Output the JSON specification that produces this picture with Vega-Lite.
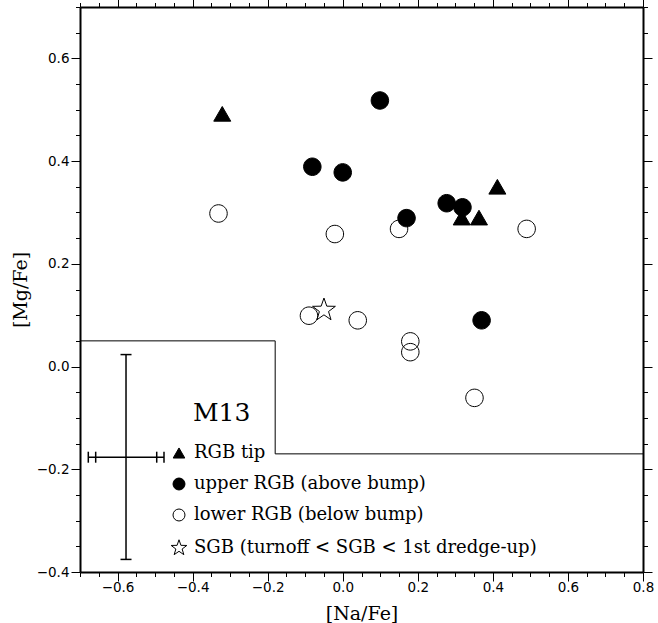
{
  "$schema": "https://vega.github.io/schema/vega-lite/v6.json",
  "width": 563,
  "height": 565,
  "autosize": {"type": "none"},
  "padding": {"left": 80, "top": 7, "right": 15, "bottom": 51},
  "datasets": {
    "stars": [
      {"na": -0.331, "mg": 0.298, "group": "lower RGB (below bump)"},
      {"na": -0.021, "mg": 0.258, "group": "lower RGB (below bump)"},
      {"na": 0.150, "mg": 0.268, "group": "lower RGB (below bump)"},
      {"na": 0.490, "mg": 0.268, "group": "lower RGB (below bump)"},
      {"na": -0.090, "mg": 0.099, "group": "lower RGB (below bump)"},
      {"na": 0.040, "mg": 0.090, "group": "lower RGB (below bump)"},
      {"na": 0.180, "mg": 0.049, "group": "lower RGB (below bump)"},
      {"na": 0.180, "mg": 0.028, "group": "lower RGB (below bump)"},
      {"na": 0.351, "mg": -0.061, "group": "lower RGB (below bump)"},
      {"na": -0.050, "mg": 0.110, "group": "SGB (turnoff < SGB < 1st dredge-up)"},
      {"na": 0.099, "mg": 0.518, "group": "upper RGB (above bump)"},
      {"na": -0.081, "mg": 0.389, "group": "upper RGB (above bump)"},
      {"na": 0.000, "mg": 0.378, "group": "upper RGB (above bump)"},
      {"na": 0.170, "mg": 0.289, "group": "upper RGB (above bump)"},
      {"na": 0.277, "mg": 0.318, "group": "upper RGB (above bump)"},
      {"na": 0.319, "mg": 0.310, "group": "upper RGB (above bump)"},
      {"na": 0.370, "mg": 0.090, "group": "upper RGB (above bump)"},
      {"na": -0.321, "mg": 0.492, "group": "RGB tip"},
      {"na": 0.412, "mg": 0.350, "group": "RGB tip"},
      {"na": 0.317, "mg": 0.290, "group": "RGB tip"},
      {"na": 0.363, "mg": 0.290, "group": "RGB tip"}
    ],
    "labels": [
      {"na": -0.399, "mg": -0.0914, "text": "M13"}
    ],
    "step": [
      {"x": -0.7, "y": 0.05},
      {"x": -0.18, "y": -0.17},
      {"x": 0.8, "y": -0.17}
    ],
    "err": [
      {"xc": -0.5774, "yc": -0.1765, "xlo": -0.6779, "xhi": -0.4762, "ylo": -0.3755, "yhi": 0.0233}
    ],
    "vcaps": [
      {"x": -0.5774, "y": 0.0233},
      {"x": -0.5774, "y": -0.3755}
    ],
    "hcaps": [
      {"x": -0.6779, "y": -0.1765},
      {"x": -0.6582, "y": -0.1765},
      {"x": -0.4956, "y": -0.1765},
      {"x": -0.4762, "y": -0.1765}
    ]
  },
  "layer": [
    {
      "data": {"name": "step"},
      "mark": {"type": "line", "interpolate": "step-after", "color": "black", "strokeWidth": 1},
      "encoding": {
        "x": {
          "field": "x", "type": "quantitative",
          "scale": {"domain": [-0.7, 0.8], "nice": false, "zero": false},
          "axis": {
            "orient": "bottom", "title": "[Na/Fe]",
            "values": [-0.7,-0.65,-0.6,-0.55,-0.5,-0.45,-0.4,-0.35,-0.3,-0.25,-0.2,-0.15,-0.1,-0.05,0,0.05,0.1,0.15,0.2,0.25,0.3,0.35,0.4,0.45,0.5,0.55,0.6,0.65,0.7,0.75,0.8],
            "format": ".1f",
            "labelExpr": "abs(datum.value/0.2 - round(datum.value/0.2)) < 0.001 ? datum.label : ''",
            "tickSize": {"condition": {"test": "abs(datum.value/0.2 - round(datum.value/0.2)) < 0.001", "value": 9}, "value": 4.5},
            "labelFlush": false, "labelOverlap": false, "labelPadding": -1, "titlePadding": 11
          }
        },
        "y": {
          "field": "y", "type": "quantitative",
          "scale": {"domain": [-0.4, 0.7], "nice": false, "zero": false},
          "axis": {
            "orient": "left", "title": "[Mg/Fe]",
            "values": [-0.4,-0.35,-0.3,-0.25,-0.2,-0.15,-0.1,-0.05,0,0.05,0.1,0.15,0.2,0.25,0.3,0.35,0.4,0.45,0.5,0.55,0.6,0.65,0.7],
            "format": ".1f",
            "labelExpr": "abs(datum.value/0.2 - round(datum.value/0.2)) < 0.001 ? datum.label : ''",
            "tickSize": {"condition": {"test": "abs(datum.value/0.2 - round(datum.value/0.2)) < 0.001", "value": 9}, "value": 4.5},
            "labelFlush": false, "labelOverlap": false, "labelPadding": 2, "titlePadding": 6
          }
        }
      }
    },
    {
      "data": {"name": "err"},
      "mark": {"type": "rule", "color": "black", "strokeWidth": 1.5},
      "encoding": {
        "x": {"field": "xc", "type": "quantitative", "scale": {"domain": [-0.7, 0.8], "nice": false, "zero": false}, "axis": null},
        "y": {"field": "ylo", "type": "quantitative", "scale": {"domain": [-0.4, 0.7], "nice": false, "zero": false}, "axis": null},
        "y2": {"field": "yhi"}
      }
    },
    {
      "data": {"name": "err"},
      "mark": {"type": "rule", "color": "black", "strokeWidth": 1.5},
      "encoding": {
        "x": {"field": "xlo", "type": "quantitative", "scale": {"domain": [-0.7, 0.8], "nice": false, "zero": false}, "axis": null},
        "x2": {"field": "xhi"},
        "y": {"field": "yc", "type": "quantitative", "scale": {"domain": [-0.4, 0.7], "nice": false, "zero": false}, "axis": null}
      }
    },
    {
      "data": {"name": "vcaps"},
      "mark": {"type": "tick", "orient": "horizontal", "size": 11, "thickness": 1.5, "color": "black", "opacity": 1},
      "encoding": {
        "x": {"field": "x", "type": "quantitative", "scale": {"domain": [-0.7, 0.8], "nice": false, "zero": false}, "axis": null},
        "y": {"field": "y", "type": "quantitative", "scale": {"domain": [-0.4, 0.7], "nice": false, "zero": false}, "axis": null}
      }
    },
    {
      "data": {"name": "hcaps"},
      "mark": {"type": "tick", "orient": "vertical", "size": 11, "thickness": 1.5, "color": "black", "opacity": 1},
      "encoding": {
        "x": {"field": "x", "type": "quantitative", "scale": {"domain": [-0.7, 0.8], "nice": false, "zero": false}, "axis": null},
        "y": {"field": "y", "type": "quantitative", "scale": {"domain": [-0.4, 0.7], "nice": false, "zero": false}, "axis": null}
      }
    },
    {
      "data": {"name": "labels"},
      "mark": {"type": "text", "font": "DejaVu Serif", "fontSize": 25, "align": "left", "baseline": "middle", "color": "black"},
      "encoding": {
        "x": {"field": "na", "type": "quantitative", "scale": {"domain": [-0.7, 0.8], "nice": false, "zero": false}, "axis": null},
        "y": {"field": "mg", "type": "quantitative", "scale": {"domain": [-0.4, 0.7], "nice": false, "zero": false}, "axis": null},
        "text": {"field": "text"}
      }
    },
    {
      "data": {"name": "stars"},
      "mark": {"type": "point", "filled": true, "strokeWidth": 1, "opacity": 1, "size": 100},
      "encoding": {
        "x": {
          "field": "na", "type": "quantitative",
          "scale": {"domain": [-0.7, 0.8], "nice": false, "zero": false},
          "axis": {
            "orient": "top", "title": null, "labels": false,
            "values": [-0.7,-0.65,-0.6,-0.55,-0.5,-0.45,-0.4,-0.35,-0.3,-0.25,-0.2,-0.15,-0.1,-0.05,0,0.05,0.1,0.15,0.2,0.25,0.3,0.35,0.4,0.45,0.5,0.55,0.6,0.65,0.7,0.75,0.8],
            "tickSize": {"condition": {"test": "abs(datum.value/0.2 - round(datum.value/0.2)) < 0.001", "value": 9}, "value": 4.5}
          }
        },
        "y": {
          "field": "mg", "type": "quantitative",
          "scale": {"domain": [-0.4, 0.7], "nice": false, "zero": false},
          "axis": {
            "orient": "right", "title": null, "labels": false,
            "values": [-0.4,-0.35,-0.3,-0.25,-0.2,-0.15,-0.1,-0.05,0,0.05,0.1,0.15,0.2,0.25,0.3,0.35,0.4,0.45,0.5,0.55,0.6,0.65,0.7],
            "tickSize": {"condition": {"test": "abs(datum.value/0.2 - round(datum.value/0.2)) < 0.001", "value": 9}, "value": 4.5}
          }
        },
        "shape": {
          "field": "group", "type": "nominal", "title": null,
          "scale": {
            "domain": ["RGB tip", "upper RGB (above bump)", "lower RGB (below bump)", "SGB (turnoff < SGB < 1st dredge-up)"],
            "range": [
              "M0,-1.47L1.7,1.47L-1.7,1.47Z",
              "M1.75,0C1.75,0.9665,0.9665,1.75,0,1.75C-0.9665,1.75,-1.75,0.9665,-1.75,0C-1.75,-0.9665,-0.9665,-1.75,0,-1.75C0.9665,-1.75,1.75,-0.9665,1.75,0Z",
              "M1.75,0C1.75,0.9665,0.9665,1.75,0,1.75C-0.9665,1.75,-1.75,0.9665,-1.75,0C-1.75,-0.9665,-0.9665,-1.75,0,-1.75C0.9665,-1.75,1.75,-0.9665,1.75,0Z",
              "M0,-2.4L0.564,-0.777L2.283,-0.742L0.913,0.297L1.411,1.942L0,0.96L-1.411,1.942L-0.913,0.297L-2.283,-0.742L-0.564,-0.777Z"
            ]
          },
          "legend": {
            "orient": "none", "legendX": 90, "legendY": 437,
            "padding": 0, "symbolSize": 47, "symbolStrokeWidth": 1,
            "labelFont": "DejaVu Serif", "labelFontSize": 18, "labelColor": "black", "labelOffset": 6, "labelLimit": 500,
            "rowPadding": 13
          }
        },
        "fill": {
          "field": "group", "type": "nominal", "title": null,
          "scale": {
            "domain": ["RGB tip", "upper RGB (above bump)", "lower RGB (below bump)", "SGB (turnoff < SGB < 1st dredge-up)"],
            "range": ["black", "black", "transparent", "transparent"]
          }
        },
        "stroke": {
          "field": "group", "type": "nominal", "title": null,
          "scale": {
            "domain": ["RGB tip", "upper RGB (above bump)", "lower RGB (below bump)", "SGB (turnoff < SGB < 1st dredge-up)"],
            "range": ["black", "black", "black", "black"]
          }
        }
      }
    }
  ],
  "resolve": {"axis": {"x": "independent", "y": "independent"}},
  "config": {
    "view": {"stroke": null},
    "axis": {
      "grid": false,
      "domainColor": "black", "domainWidth": 2,
      "tickColor": "black", "tickWidth": 1,
      "labelFont": "DejaVu Sans", "labelFontSize": 13.5, "labelColor": "black",
      "titleFont": "DejaVu Serif", "titleFontSize": 19, "titleFontWeight": "normal", "titleColor": "black"
    }
  }
}
